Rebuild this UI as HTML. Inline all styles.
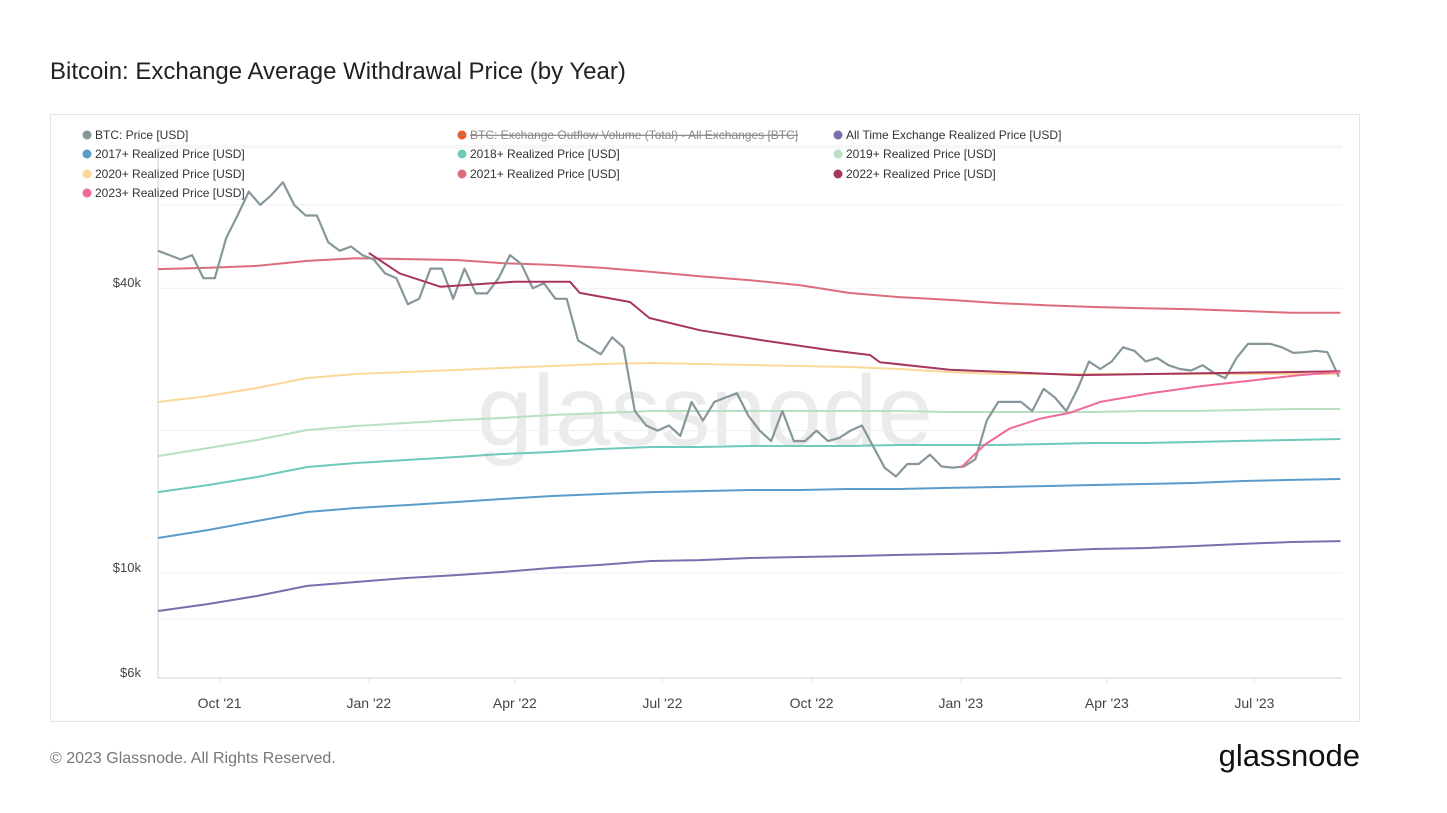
<!DOCTYPE html>
<html><head><meta charset="utf-8">
<style>
body{margin:0;background:#fff;font-family:"Liberation Sans",sans-serif;}
#wrap{position:relative;width:1447px;height:813px;overflow:hidden;}
</style></head>
<body>
<div id="wrap">
<svg id="svg" width="1447" height="813" xmlns="http://www.w3.org/2000/svg">
<text x="50" y="79" font-size="24" fill="#222" font-family="Liberation Sans, sans-serif">Bitcoin: Exchange Average Withdrawal Price (by Year)</text>
<rect x="50.5" y="114.5" width="1309" height="607" fill="#fff" stroke="#e3e3e3"/>
<text x="705" y="445" font-size="100" fill="#ebebeb" text-anchor="middle" font-family="Liberation Sans, sans-serif">glassnode</text>
<g id="grid"></g>
<g id="series"></g>
<g id="legend"></g>
<text x="50" y="763" font-size="16" fill="#777">© 2023 Glassnode. All Rights Reserved.</text>
<text x="1360" y="766" font-size="31" fill="#111" text-anchor="end">glassnode</text>
</svg>
</div>
<script>
const btcStart = "2021-08-24";
const btcPrice = [48,47,46,47,42,42,51,57,64,60,63,67,60,57,57,50,48,49,47,
46,43,42,37,38,44,44,38,44,39,39,42,47,45,40,41,38,38,31,30,29,31.5,30,22,20.5,20,20.5,19.5,23,21,23,23.5,24,21.5,20,19,22,19,19,20,19,19.3,20,20.5,18.5,16.7,16,17,17,17.8,16.8,16.7,
16.8,17.4,21,23,23,23,22,24.5,23.5,22,24.5,28,27,28,30,29.5,28,28.5,27.5,27,26.8,27.5,26.5,25.8,28.5,30.5,30.5,30.5,30,29.2,29.3,29.5,29.3,26];
const months = ["2021-08-24","2021-09-24","2021-10-24","2021-11-24","2021-12-24","2022-01-24","2022-02-24","2022-03-24","2022-04-24","2022-05-24","2022-06-24","2022-07-24","2022-08-24","2022-09-24","2022-10-24","2022-11-24","2022-12-24","2023-01-24","2023-02-24","2023-03-24","2023-04-24","2023-05-24","2023-06-24","2023-07-24","2023-08-23"];
const rpAll = [8.31,8.60,8.94,9.39,9.57,9.76,9.90,10.05,10.25,10.40,10.60,10.65,10.76,10.81,10.86,10.92,10.97,11.02,11.13,11.24,11.29,11.40,11.52,11.63,11.68];
const rp2017 = [11.86,12.33,12.88,13.46,13.72,13.92,14.13,14.34,14.55,14.69,14.83,14.90,14.98,14.98,15.05,15.05,15.13,15.20,15.27,15.35,15.42,15.50,15.65,15.73,15.80];
const rp2018 = [14.83,15.35,15.96,16.75,17.08,17.33,17.59,17.85,18.02,18.29,18.47,18.47,18.56,18.56,18.56,18.65,18.65,18.65,18.74,18.83,18.83,18.92,19.02,19.11,19.20];
const rp2019 = [17.67,18.38,19.11,20.06,20.45,20.76,21.06,21.27,21.58,21.79,22.00,22.00,22.00,22.00,22.00,22.00,21.90,21.90,21.90,21.90,22.00,22.00,22.11,22.22,22.22];
const rp2020 = [22.99,23.67,24.61,25.84,26.35,26.61,26.86,27.13,27.39,27.66,27.80,27.66,27.53,27.39,27.26,27.0,26.61,26.35,26.35,26.35,26.35,26.35,26.35,26.35,26.35];
const rp2021 = [43.9,44.2,44.6,45.7,46.3,46.1,45.9,45.2,44.8,44.2,43.3,42.4,41.6,40.6,39.1,38.3,37.8,37.2,36.8,36.5,36.3,36.1,35.8,35.5,35.5];
const dates2022 = ["2022-01-01","2022-01-20","2022-02-14","2022-04-01","2022-05-05","2022-05-11","2022-06-11","2022-06-23","2022-07-24","2022-08-30","2022-10-12","2022-11-06","2022-11-12","2022-12-25","2023-03-15","2023-08-23"];
const rp2022 = [47.5,43.0,40.3,41.3,41.3,39.1,37.4,34.6,32.6,31.1,29.6,28.9,27.9,26.9,26.2,26.7];
const dates2023 = ["2023-01-01","2023-01-16","2023-01-31","2023-02-19","2023-03-09","2023-03-28","2023-04-28","2023-05-28","2023-06-28","2023-07-29","2023-08-23"];
const rp2023 = [16.7,18.7,20.2,21.2,21.8,23.0,24.0,24.8,25.5,26.2,26.6];
const yTicks = [6,10,40];
const yGrid = [8,10,20,40,60,80];
const xTickDates = ["2021-10-01","2022-01-01","2022-04-01","2022-07-01","2022-10-01","2023-01-01","2023-04-01","2023-07-01"];
const xTickLabels = ["Oct '21","Jan '22","Apr '22","Jul '22","Oct '22","Jan '23","Apr '23","Jul '23"];

const NS="http://www.w3.org/2000/svg";
const L=158,R=1342,T=148,B=678;
const t0=Date.UTC(2021,7,24), DAY=86400000, PXD=(R-L)/730;
function d(s){const p=s.split('-');return Date.UTC(+p[0],+p[1]-1,+p[2]);}
function xs(t){return L+(t-t0)/DAY*PXD;}
function ys(k){return 573-473*Math.log10(k/10);}
function mk(tag,attrs,parent){const e=document.createElementNS(NS,tag);for(const k in attrs)e.setAttribute(k,attrs[k]);parent.appendChild(e);return e;}
const grid=document.getElementById('grid'),ser=document.getElementById('series'),leg=document.getElementById('legend');
yGrid.forEach(v=>{const y=ys(v);const l=mk('line',{x1:L,x2:R,y1:y,y2:y,stroke:'#efefef','stroke-width':1},grid);

});
[T].forEach(y=>{const l=mk('line',{x1:L,x2:R,y1:y,y2:y,stroke:'#f2f2f2'},grid);

});
const ax=mk('path',{d:`M${L},${T}V${B}H${R}`,fill:'none',stroke:'#d0d0d0','stroke-width':1},grid);


yTicks.forEach(v=>{const t=mk('text',{x:141,y:ys(v)-1,'font-size':13,fill:'#444','text-anchor':'end'},grid);t.textContent='$'+v+'k';

});
xTickDates.forEach((s,i)=>{const x=xs(d(s));mk('line',{x1:x,x2:x,y1:B,y2:B+5,stroke:'#e0e0e0'},grid);
const t=mk('text',{x:x,y:708,'font-size':14,fill:'#444','text-anchor':'middle'},grid);t.textContent=xTickLabels[i];

});
function line(ds,vals,color,name,w){let p='';vals.forEach((v,i)=>{p+=(i?'L':'M')+xs(ds[i]).toFixed(1)+','+ys(v).toFixed(1);});
const e=mk('path',{d:p,fill:'none',stroke:color,'stroke-width':w||2,'stroke-linejoin':'round'},ser);

}
const md=months.map(d);
line(md,rpAll,'#7b6dae','all-time-realized-line');
line(md,rp2017,'#5b9bc9','realized-2017-line');
line(md,rp2018,'#6fcabc','realized-2018-line');
line(md,rp2019,'#b9e0c2','realized-2019-line');
line(md,rp2020,'#fcd898','realized-2020-line');
line(md,rp2021,'#dc6e7c','realized-2021-line');
line(btcPrice.map((v,i)=>d(btcStart)+i*7*DAY),btcPrice,'#86979b','btc-price-line',2.2);
line(dates2022.map(d),rp2022,'#a7365f','realized-2022-line');
line(dates2023.map(d),rp2023,'#f0699a','realized-2023-line');
const legendItems=[["BTC: Price [USD]","#86979b",83,135],["BTC: Exchange Outflow Volume (Total) - All Exchanges [BTC]","#f0561d",458,135],["All Time Exchange Realized Price [USD]","#7b6dae",834,135],
["2017+ Realized Price [USD]","#5b9bc9",83,154],["2018+ Realized Price [USD]","#6fcabc",458,154],["2019+ Realized Price [USD]","#b9e0c2",834,154],
["2020+ Realized Price [USD]","#fcd898",83,174],["2021+ Realized Price [USD]","#dc6e7c",458,174],["2022+ Realized Price [USD]","#a7365f",834,174],
["2023+ Realized Price [USD]","#f0699a",83,193]];
legendItems.forEach((it,i)=>{const g=mk('g',{},leg);


mk('circle',{cx:it[2]+4,cy:it[3],r:4.5,fill:it[1]},g);
const t=mk('text',{x:it[2]+12,y:it[3]+4,'font-size':12,fill:i==1?'#888':'#333'},g);t.textContent=it[0];
if(i==1){t.setAttribute('text-decoration','line-through');mk('line',{x1:it[2],x2:it[2]+8,y1:it[3],y2:it[3],stroke:'#888'},g);}});
</script>
</body></html>
